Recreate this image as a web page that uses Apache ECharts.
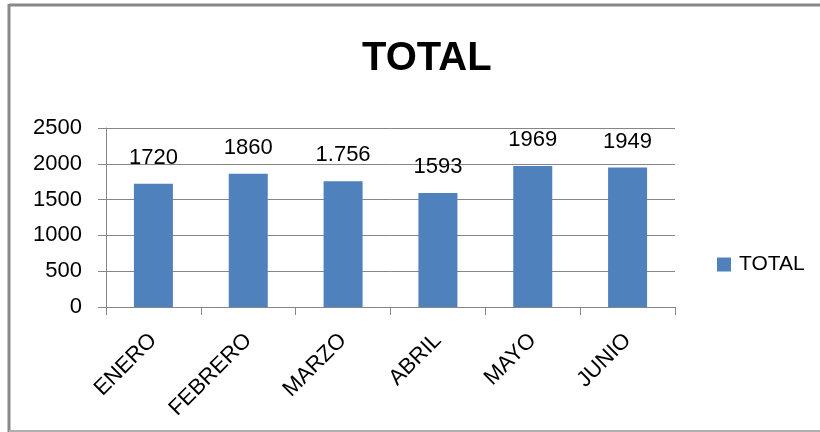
<!DOCTYPE html>
<html><head><meta charset="utf-8">
<script src="https://cdn.jsdelivr.net/npm/echarts@6/dist/echarts.min.js"></script>
<style>html,body{margin:0;padding:0;background:#fff}#c{width:820px;height:432px}</style>
</head><body><div id="c"></div>
<script>
var categories = ['ENERO','FEBRERO','MARZO','ABRIL','MAYO','JUNIO'];
var totals = [1720, 1860, 1756, 1593, 1969, 1949];
var valueLabels = ['1720','1860','1.756','1593','1969','1949'];
var yTicks = [0, 500, 1000, 1500, 2000, 2500];
var FONT = 'Liberation Sans';
var chart = echarts.init(document.getElementById('c'));
chart.setOption({
  animation: false,
  title: {text: 'TOTAL', left: 357, top: 34, textStyle: {fontFamily: FONT, fontSize: 40, fontWeight: 'bold', color: '#000'}},
  legend: {data: ['TOTAL'], orient: 'vertical', left: 712, top: 249, itemWidth: 14, itemHeight: 14, icon: 'rect', itemGap: 5,
    textStyle: {fontFamily: FONT, fontSize: 21, color: '#000', padding: [0,0,0,3]}},
  grid: {left: 106, right: 145, top: 128, bottom: 125, containLabel: false},
  xAxis: {type: 'category', data: categories,
    axisLine: {lineStyle: {color: '#868686', width: 1}},
    axisTick: {show: true, length: 8, lineStyle: {color: '#868686'}},
    axisLabel: {rotate: 45, margin: 30, fontFamily: FONT, fontSize: 22, color: '#000', interval: 0}},
  yAxis: {type: 'value', min: yTicks[0], max: yTicks[yTicks.length-1], interval: 500,
    axisLine: {show: true, lineStyle: {color: '#868686', width: 1}},
    axisTick: {show: true, length: 8, lineStyle: {color: '#868686'}},
    splitLine: {lineStyle: {color: '#868686', width: 1}},
    axisLabel: {margin: 24, fontFamily: FONT, fontSize: 22, color: '#000',
      formatter: function(v){ return String(v); }}},
  series: [{name: 'TOTAL', type: 'bar', data: totals, barWidth: 39,
    itemStyle: {color: '#4F81BD'},
    label: {show: true, position: 'top', distance: 15, fontFamily: FONT, fontSize: 22, color: '#000',
      formatter: function(p){ return valueLabels[p.dataIndex]; }}}],
  graphic: [
    {type: 'line', shape: {x1: 9, y1: 5, x2: 820, y2: 5}, style: {stroke: '#898989', lineWidth: 3}},
    {type: 'line', shape: {x1: 9, y1: 4, x2: 9, y2: 432}, style: {stroke: '#898989', lineWidth: 3}},
    {type: 'line', shape: {x1: 9, y1: 431, x2: 820, y2: 431}, style: {stroke: '#b0b0b0', lineWidth: 2}}
  ]
});
</script></body></html>
